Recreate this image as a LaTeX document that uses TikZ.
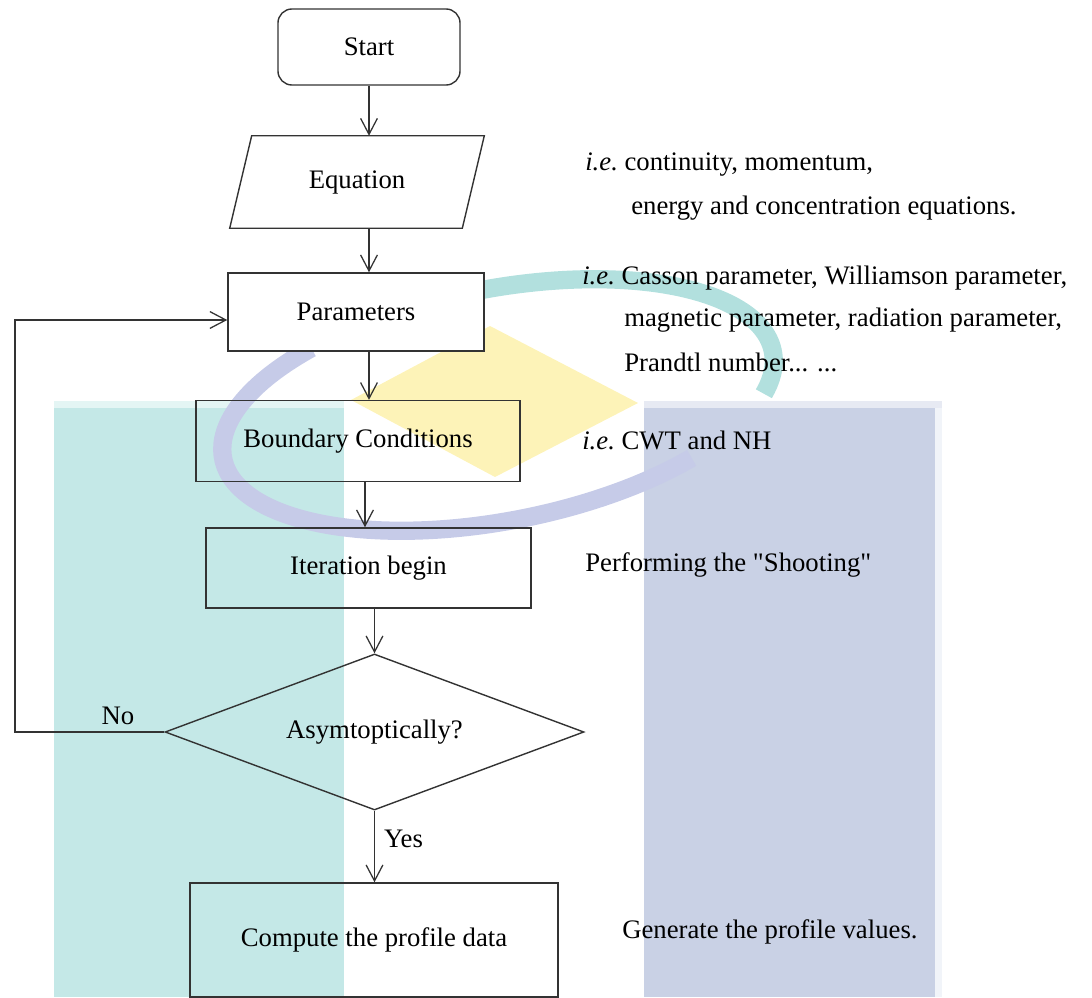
\documentclass[tikz,border=0pt]{standalone}
\usepackage{fontspec}
\setmainfont{Liberation Serif}
\newfontfamily\quotefont{Liberation Serif}
\usetikzlibrary{arrows.meta,shapes.geometric,positioning,calc}

\definecolor{wmteal}{HTML}{C4E8E7}
\definecolor{wmblue}{HTML}{C9D1E5}
\definecolor{wmyellow}{HTML}{FDF3B8}
\definecolor{wmring}{HTML}{B2E0DE}
\definecolor{wmlav}{HTML}{C6CBE8}
\definecolor{lineclr}{HTML}{333333}

\begin{document}
\begin{tikzpicture}[x=0.025cm,y=-0.025cm,
    font=\fontsize{19}{23}\selectfont,
    box/.style={draw=lineclr,line width=1pt,inner sep=0pt},
    flow/.style={draw=lineclr,line width=0.9pt,-{Straight Barb[length=4mm,width=4.2mm]}},
    note/.style={anchor=west,inner sep=0pt}]
   \useasboundingbox (0,0) rectangle (1092,998);
   % watermark in the background
   \fill[wmteal] (54,401) rectangle (344,997);
   \fill[wmteal!45] (54,401) rectangle (344,408);
   \fill[wmblue] (644,401) rectangle (935,997);
   \fill[wmblue!45] (644,401) rectangle (942,408);
   \fill[wmblue!25] (935,408) rectangle (942,997);
   \fill[wmyellow] (490,326) -- (638,403) -- (495,477) -- (351,400) -- cycle;
   \draw[wmring,line width=13pt,rotate around={11:(498,405)}]
      (498,405) ++(-100:280 and 116) arc[start angle=-100,end angle=20,x radius=280,y radius=116];
   \draw[wmlav,line width=13pt,rotate around={11:(498,405)}]
      (498,405) ++(-128:280 and 116) arc[start angle=-128,end angle=-310,x radius=280,y radius=116];
   % flow chart
   \node[box,rounded corners=0.35cm,minimum width=4.55cm,minimum height=1.9cm] (start) at (369,47) {Start};
   \node[inner sep=0pt,minimum width=5.8cm,minimum height=2.3cm] (eqn) at (357,182) {Equation};
   \draw[box] ($(eqn.north west)+(11,0)$) -- ($(eqn.north east)+(11,0)$)
      -- ($(eqn.south east)+(-11,0)$) -- ($(eqn.south west)+(-11,0)$) -- cycle;
   \node[box,fill=white,minimum width=6.4cm,minimum height=1.95cm] (param) at (356,312) {Parameters};
   \node[box,minimum width=8.1cm,minimum height=2.02cm] (bc) at (358,441) {Boundary Conditions};
   \node[box,minimum width=8.12cm,minimum height=2cm] (iter) at (368.5,568) {Iteration begin};
   \node[box,diamond,aspect=2.7,minimum width=10.47cm,minimum height=3.9cm] (dia) at (374.5,732) {Asymtoptically?};
   \node[box,minimum width=9.2cm,minimum height=2.85cm] (comp) at (374,940) {Compute the profile data};
   \coordinate (loop) at (15,320);
   \draw [flow] (start.south) -- (start.south |- eqn.north);
   \draw [flow] (eqn.south -| start.south) -- (param.north -| start.south);
   \draw [flow] (param.south -| start.south) -- (bc.north -| start.south);
   \draw [flow] (bc.south -| 365,0) -- (iter.north -| 365,0);
   \draw [flow] (iter.south -| dia.north) -- (dia.north);
   \draw [flow] (dia.south) -- node[right=3pt,pos=0.4] (yes) {Yes} (comp.north -| dia.south);
   \draw [flow] (dia.west) -| (loop) -- (loop -| param.west);
   \node (no) at (118,716) {No};
   % notes on the right
   \node[note] (n1a) at (585,165) {\textit{i.e.}\ continuity, momentum,};
   \node[note] (n1b) at (631,208) {energy and concentration equations.};
   \node[note] (n2a) at (582,278) {\textit{i.e.}\ Casson parameter, Williamson parameter,};
   \node[note] (n2b) at (624,320) {magnetic parameter, radiation parameter,};
   \node[note] (n2c) at (624,362) {Prandtl number... ...};
   \node[note] (n3) at (582,440) {\textit{i.e.}\ CWT and NH};
   \node[note] (n4) at (585,565) {\quotefont Performing the "Shooting"};
   \node[note] (n5) at (622,932) {Generate the profile values.};
\end{tikzpicture}
\end{document}
